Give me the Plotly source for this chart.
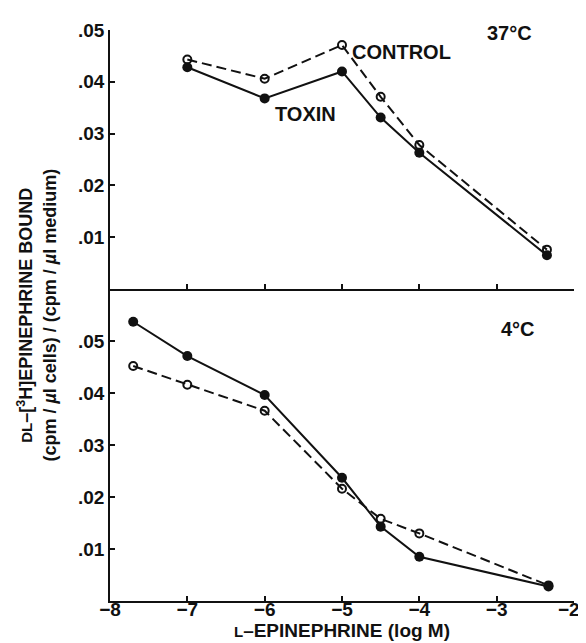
import plotly.graph_objects as go

# 37 °C panel
x_37 = [-7.0, -6.0, -5.0, -4.5, -4.0, -2.35]
control_37 = [0.0443, 0.0406, 0.0471, 0.0371, 0.0278, 0.0076]
toxin_37 = [0.0428, 0.0368, 0.0420, 0.0331, 0.0263, 0.0065]

# 4 °C panel
x_4 = [-7.7, -7.0, -6.0, -5.0, -4.5, -4.0, -2.33]
control_4 = [0.0452, 0.0416, 0.0366, 0.0216, 0.0158, 0.0130, 0.0030]
toxin_4 = [0.0537, 0.0471, 0.0396, 0.0237, 0.0143, 0.0085, 0.0028]

x_ticks = [-8, -7, -6, -5, -4, -3, -2]
x_tick_text = ["−8", "−7", "−6", "−5", "−4", "−3", "−2\u2007"]
y_ticks = [0.01, 0.02, 0.03, 0.04, 0.05]
y_tick_text = [".01", ".02", ".03", ".04", ".05"]

FONT = "Liberation Sans, Arial, sans-serif"
BLACK = "#111111"

fig = go.Figure()

def add_pair(x, ctrl, tox, xa, ya):
    fig.add_trace(go.Scatter(
        x=x, y=ctrl, mode="lines+markers", xaxis=xa, yaxis=ya,
        line=dict(color=BLACK, width=2, dash="10px,5px"),
        marker=dict(symbol="circle-open", size=8, color=BLACK, line=dict(width=2)),
        showlegend=False, cliponaxis=False))
    fig.add_trace(go.Scatter(
        x=x, y=tox, mode="lines+markers", xaxis=xa, yaxis=ya,
        line=dict(color=BLACK, width=2),
        marker=dict(symbol="circle", size=10, color=BLACK),
        showlegend=False, cliponaxis=False))

add_pair(x_37, control_37, toxin_37, "x2", "y2")
add_pair(x_4, control_4, toxin_4, "x", "y")

split = 312 / 571

axis_common = dict(showgrid=False, zeroline=False, showline=True, linecolor=BLACK,
                   linewidth=1.8, ticks="inside", tickcolor=BLACK, ticklen=5,
                   tickwidth=1.5)
tick_font = dict(size=19, family=FONT, color=BLACK, weight="bold")

fig.update_layout(
    width=586, height=643,
    margin=dict(l=102, r=4, t=22, b=50),
    paper_bgcolor="white", plot_bgcolor="white",
    font=dict(family=FONT, size=19, color=BLACK),
    xaxis=dict(**axis_common, range=[-8, -2], tickvals=x_ticks, ticktext=x_tick_text,
               anchor="y", tickfont=tick_font, ticklabeloverflow="allow",
               ticklabelstandoff=-10,
               title=dict(text="<span style='font-size:15px'>L</span>–EPINEPHRINE (log M)",
                          font=dict(size=19, family=FONT, color=BLACK, weight="bold"),
                          standoff=0)),
    yaxis=dict(**axis_common, range=[0, 0.06], domain=[0, split], anchor="x",
               tickvals=y_ticks, ticktext=y_tick_text, tickfont=tick_font),
    xaxis2=dict(**axis_common, range=[-8, -2], tickvals=x_ticks[1:], anchor="y2",
                showticklabels=False),
    yaxis2=dict(**axis_common, range=[0, 0.05], domain=[split, 1], anchor="x2",
                tickvals=y_ticks, ticktext=y_tick_text, tickfont=tick_font),
)

ann = [
    dict(x=-2.84, y=0.0494, xref="x2", yref="y2", text="37°C"),
    dict(x=-4.225, y=0.0458, xref="x2", yref="y2", text="CONTROL"),
    dict(x=-5.47, y=0.0337, xref="x2", yref="y2", text="TOXIN"),
    dict(x=-2.725, y=0.0523, xref="x", yref="y", text="4°C"),
]
for a in ann:
    fig.add_annotation(**a, showarrow=False,
                       font=dict(size=20, color=BLACK, family=FONT, weight="bold"))

fig.add_annotation(
    x=-0.158, y=0.501, xref="paper", yref="paper", showarrow=False, textangle=-90,
    xanchor="center", yanchor="middle",
    text="<span style='font-size:15px'>DL</span>–[<sup>3</sup>H]EPINEPHRINE BOUND<br>(cpm / <i>µ</i>l cells) / (cpm / <i>µ</i>l medium)",
    font=dict(size=18, color=BLACK, family=FONT, weight="bold"), align="center")

fig.write_html("out.html")
